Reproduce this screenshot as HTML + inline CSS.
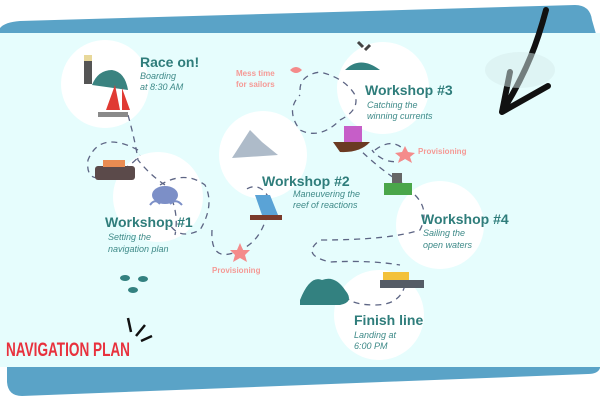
<!DOCTYPE html>
<html><head><meta charset="utf-8"><style>
body{margin:0;width:600px;height:400px;overflow:hidden;background:#fff}
svg{display:block}
text{font-family:"Liberation Sans",sans-serif}
.h{font-weight:bold;fill:#2f7d7b;font-size:14px}
.s{font-style:italic;fill:#3e8a88;font-size:9px}
.p{font-weight:bold;fill:#f59a96;font-size:8px}
.d{fill:none;stroke:#5d6584;stroke-width:1.3;stroke-dasharray:6 5}
</style></head><body>
<svg width="600" height="400" viewBox="0 0 600 400">
<path d="M0 28 Q5 22 20 21 L575 5 Q590 5 592 20 L596 34 L0 34Z" fill="#5aa3c7"/>
<path d="M7 360 L600 360 L600 368 Q598 374 588 374 L22 396 Q8 396 7 382Z" fill="#5aa3c7"/>
<rect x="0" y="33" width="600" height="334" fill="#e6fdfd"/>
<g fill="#fff">
<circle cx="105" cy="84" r="44"/>
<circle cx="158" cy="197" r="45"/>
<circle cx="263" cy="155" r="44"/>
<circle cx="383" cy="88" r="46"/>
<circle cx="440" cy="225" r="44"/>
<circle cx="379" cy="315" r="45"/>
</g>
<g class="d">
<path d="M128 115 Q135 140 138 160 Q150 175 165 185 Q180 210 175 235"/>
<path d="M138 150 Q100 130 88 160 Q85 185 110 175 Q130 168 140 155"/>
<path d="M160 185 Q185 170 205 185 Q215 205 200 230 Q180 240 170 225"/>
<path d="M212 230 Q210 265 240 250 Q265 240 270 200 Q260 180 245 190"/>
<path d="M300 90 Q300 75 320 72 Q345 78 355 95 Q360 110 340 120 Q320 140 300 130 Q285 110 300 95"/>
<path d="M375 150 Q395 135 408 155 Q400 165 385 160 Q375 155 372 150"/>
<path d="M355 145 Q380 170 405 185"/>
<path d="M415 195 Q430 210 420 230 Q390 240 320 240 Q300 255 330 262 Q370 260 400 265"/>
<path d="M405 285 Q400 305 375 305 Q350 305 345 295"/>
</g>
<path d="M546 10 C538 40 528 70 502 112 M502 112 L548 86 M502 112 L510 72" stroke="#111" stroke-width="6" fill="none" stroke-linecap="round"/>
<ellipse cx="520" cy="70" rx="35" ry="18" fill="#d6ecec" opacity=".5"/>
<!-- icons -->
<rect x="84" y="60" width="8" height="24" fill="#555"/><rect x="84" y="55" width="8" height="6" fill="#e8d89a"/>
<path d="M92 85 Q98 70 112 70 Q125 72 128 90Z" fill="#3a8380"/>
<path d="M115 85 L120 110 L106 110Z M122 88 L130 110 L122 110Z" fill="#e03a33"/>
<rect x="98" y="112" width="30" height="5" fill="#8a8a8a"/>
<rect x="95" y="166" width="40" height="14" rx="3" fill="#5b4a4a"/><rect x="103" y="160" width="22" height="7" fill="#e98c52"/>
<ellipse cx="165" cy="195" rx="13" ry="9" fill="#7c8fc7"/>
<path d="M150 205 Q155 198 160 204 M170 204 Q176 198 182 205" stroke="#7c8fc7" fill="none" stroke-width="2"/>
<path d="M232 158 L250 130 L262 142 L278 155Z" fill="#aebbc9"/>
<path d="M255 195 L262 215 L278 215 L270 195Z" fill="#5aa3d6"/><rect x="250" y="215" width="32" height="5" fill="#7a3b2b"/>
<path d="M240 243 L243 250 L250 250 L245 255 L247 262 L240 258 L233 262 L235 255 L230 250 L237 250Z" fill="#f48b8b"/>
<path d="M345 70 Q360 55 380 70Z" fill="#338180"/>
<path d="M358 42 l5 5 M370 45 l-5 5" stroke="#444" stroke-width="3"/>
<rect x="344" y="126" width="18" height="16" fill="#c65ec8"/><path d="M333 142 L370 142 Q360 153 340 152Z" fill="#6b3a22"/>
<path d="M405 146 L408 152 L415 153 L410 157 L412 163 L405 159 L398 163 L400 157 L395 153 L402 152Z" fill="#f48b8b"/>
<rect x="384" y="183" width="28" height="12" fill="#4aa64a"/><rect x="392" y="173" width="10" height="10" fill="#666"/>
<path d="M290 70 Q296 64 302 70 Q296 76 290 70" fill="#f48b8b"/>
<path d="M300 300 Q310 275 322 280 Q335 275 345 290 Q355 302 340 305 L300 305Z" fill="#338180"/>
<rect x="383" y="272" width="26" height="14" fill="#f3c13a"/><rect x="380" y="280" width="44" height="8" fill="#555c66"/>
<g fill="#338180"><ellipse cx="125" cy="278" rx="5" ry="3"/><ellipse cx="143" cy="279" rx="5" ry="3"/><ellipse cx="133" cy="290" rx="5" ry="3"/></g>
<path d="M128 318 L131 332 M145 325 L136 336 M152 336 L141 341" stroke="#111" stroke-width="2.5"/>
<!-- text -->
<text x="140" y="67" class="h">Race on!</text>
<text x="140" y="79" class="s">Boarding</text>
<text x="140" y="90" class="s">at 8:30 AM</text>
<text x="105" y="227" class="h">Workshop #1</text>
<text x="108" y="240" class="s">Setting the</text>
<text x="108" y="252" class="s">navigation plan</text>
<text x="262" y="186" class="h">Workshop #2</text>
<text x="293" y="197" class="s">Maneuvering the</text>
<text x="293" y="208" class="s">reef of reactions</text>
<text x="365" y="95" class="h">Workshop #3</text>
<text x="367" y="108" class="s">Catching the</text>
<text x="367" y="119" class="s">winning currents</text>
<text x="421" y="224" class="h">Workshop #4</text>
<text x="423" y="236" class="s">Sailing the</text>
<text x="423" y="248" class="s">open waters</text>
<text x="354" y="325" class="h">Finish line</text>
<text x="354" y="338" class="s">Landing at</text>
<text x="354" y="349" class="s">6:00 PM</text>
<text x="236" y="76" class="p">Mess time</text>
<text x="236" y="87" class="p">for sailors</text>
<text x="418" y="154" class="p">Provisioning</text>
<text x="212" y="273" class="p">Provisioning</text>
<text x="6" y="356" font-weight="bold" font-size="19" fill="#e8313d" textLength="124" lengthAdjust="spacingAndGlyphs">NAVIGATION PLAN</text>
</svg>
</body></html>
